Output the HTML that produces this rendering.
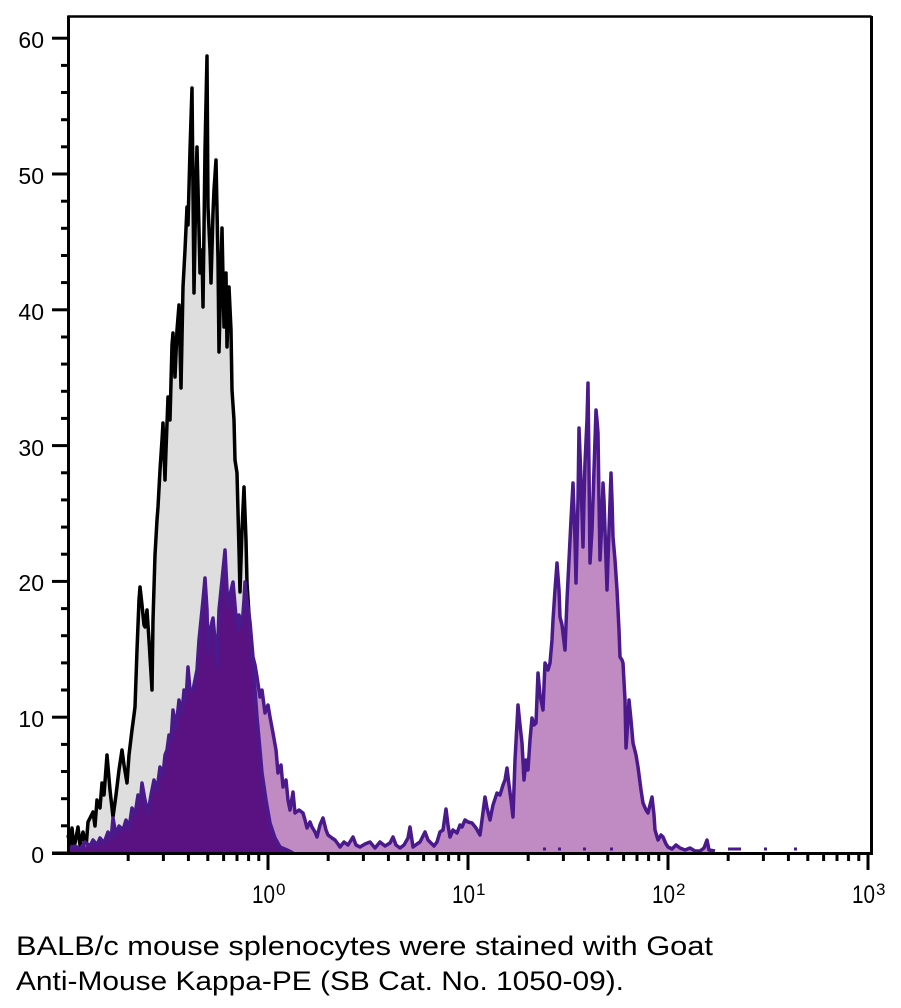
<!DOCTYPE html>
<html>
<head>
<meta charset="utf-8">
<style>
html,body{margin:0;padding:0;background:#fff;}
svg{display:block;}
text{font-family:"Liberation Sans",sans-serif;fill:#000;}
</style>
</head>
<body>
<svg width="901" height="1008" viewBox="0 0 901 1008" xmlns="http://www.w3.org/2000/svg">
<defs>
<clipPath id="clipG">
<polygon points="68,853 68,835 70,845 72,828 74,848 76,838 78,827 80,845 83,832 86,848 88,822 90,818 93,812 95,826 97,800 100,808 102,783 104,795 107,755 110,790 113,817 116,795 119,770 122,750 124,765 127,783 129,755 132,730 134,715 135,707 137,650 139,600 140,587 142,605 144,625 145,627 147,610 149,640 152,690 153,620 155,555 157,520 158,507 160,470 162,440 163,423 165,480 166,450 168,397 170,420 172,345 173,333 175,377 177,330 179,305 181,388 183,287 185,250 187,207 188,225 190,150 192,88 194,293 196,180 197,147 199,230 200,273 202,250 203,307 205,150 207,56 208,207 210,250 211,283 213,213 214,190 216,160 218,260 219,352 221,270 222,228 224,327 226,273 227,347 229,287 231,330 232,390 234,420 235,460 237,473 239,550 240,592 242,530 244,487 246,540 247,583 250,630 252,657 255,690 257,717 260,750 262,773 266,800 270,823 275,838 280,847 287,850 293,853"/>
</clipPath>
<clipPath id="clipP">
<polygon points="68,853 68,848 75,846 80,849 85,842 90,846 93,840 97,845 100,838 104,843 108,832 111,840 113,818 116,835 119,826 123,830 126,820 129,828 132,808 135,815 138,795 140,805 142,783 145,800 148,813 151,795 154,780 157,790 160,767 163,775 165,755 167,750 169,735 171,740 173,710 176,728 179,700 182,713 184,690 186,700 188,667 190,690 193,690 195,680 197,670 199,640 201,620 203,600 205,578 207,610 208,653 210,630 213,618 215,640 217,667 219,610 221,590 222,580 224,560 225,550 227,590 228,607 230,595 233,582 235,605 237,630 239,615 242,627 244,600 245,582 247,600 250,622 253,657 255,665 257,677 260,697 262,690 265,713 268,705 270,717 273,733 276,750 278,773 281,765 283,787 286,780 288,800 290,810 293,792 295,813 299,810 303,813 305,820 307,828 310,822 312,827 315,832 317,837 320,825 323,818 326,830 328,835 332,838 335,840 338,844 340,847 340,853"/>
</clipPath>
</defs>

<!-- gray control histogram -->
<polygon points="68,853 68,835 70,845 72,828 74,848 76,838 78,827 80,845 83,832 86,848 88,822 90,818 93,812 95,826 97,800 100,808 102,783 104,795 107,755 110,790 113,817 116,795 119,770 122,750 124,765 127,783 129,755 132,730 134,715 135,707 137,650 139,600 140,587 142,605 144,625 145,627 147,610 149,640 152,690 153,620 155,555 157,520 158,507 160,470 162,440 163,423 165,480 166,450 168,397 170,420 172,345 173,333 175,377 177,330 179,305 181,388 183,287 185,250 187,207 188,225 190,150 192,88 194,293 196,180 197,147 199,230 200,273 202,250 203,307 205,150 207,56 208,207 210,250 211,283 213,213 214,190 216,160 218,260 219,352 221,270 222,228 224,327 226,273 227,347 229,287 231,330 232,390 234,420 235,460 237,473 239,550 240,592 242,530 244,487 246,540 247,583 250,630 252,657 255,690 257,717 260,750 262,773 266,800 270,823 275,838 280,847 287,850 293,853" fill="#dedede" stroke="none"/>
<polyline points="68,835 70,845 72,828 74,848 76,838 78,827 80,845 83,832 86,848 88,822 90,818 93,812 95,826 97,800 100,808 102,783 104,795 107,755 110,790 113,817 116,795 119,770 122,750 124,765 127,783 129,755 132,730 134,715 135,707 137,650 139,600 140,587 142,605 144,625 145,627 147,610 149,640 152,690 153,620 155,555 157,520 158,507 160,470 162,440 163,423 165,480 166,450 168,397 170,420 172,345 173,333 175,377 177,330 179,305 181,388 183,287 185,250 187,207 188,225 190,150 192,88 194,293 196,180 197,147 199,230 200,273 202,250 203,307 205,150 207,56 208,207 210,250 211,283 213,213 214,190 216,160 218,260 219,352 221,270 222,228 224,327 226,273 227,347 229,287 231,330 232,390 234,420 235,460 237,473 239,550 240,592 242,530 244,487 246,540 247,583 250,630 252,657 255,690 257,717 260,750 262,773 266,800 270,823 275,838 280,847 287,850 293,853" fill="none" stroke="#000" stroke-width="3.5" stroke-linejoin="round"/>

<!-- stained histogram (light fill) -->
<polygon points="68,853 68,848 75,846 80,849 85,842 90,846 93,840 97,845 100,838 104,843 108,832 111,840 113,818 116,835 119,826 123,830 126,820 129,828 132,808 135,815 138,795 140,805 142,783 145,800 148,813 151,795 154,780 157,790 160,767 163,775 165,755 167,750 169,735 171,740 173,710 176,728 179,700 182,713 184,690 186,700 188,667 190,690 193,690 195,680 197,670 199,640 201,620 203,600 205,578 207,610 208,653 210,630 213,618 215,640 217,667 219,610 221,590 222,580 224,560 225,550 227,590 228,607 230,595 233,582 235,605 237,630 239,615 242,627 244,600 245,582 247,600 250,622 253,657 255,665 257,677 260,697 262,690 265,713 268,705 270,717 273,733 276,750 278,773 281,765 283,787 286,780 288,800 290,810 293,792 295,813 299,810 303,813 305,820 307,828 310,822 312,827 315,832 317,837 320,825 323,818 326,830 328,835 332,838 335,840 338,844 340,847 344,842 348,845 353,837 356,845 360,847 365,844 370,842 375,848 380,842 385,846 390,843 393,837 396,845 400,848 404,845 408,838 410,827 413,847 417,844 420,842 423,836 425,832 428,840 430,842 434,846 437,842 440,832 443,830 446,809 448,825 450,837 453,830 457,833 460,825 462,827 465,820 468,822 472,823 476,828 480,835 482,820 485,797 487,808 490,820 493,805 497,793 500,795 503,785 505,780 507,768 509,785 511,800 513,817 515,760 518,705 520,725 522,743 524,780 526,760 528,770 530,740 532,718 534,725 536,723 538,673 540,695 543,710 545,663 548,670 550,663 552,640 553,620 555,590 557,563 559,590 560,617 562,625 565,650 567,600 568,580 570,540 571,520 573,483 575,540 576,583 578,500 579,428 581,480 583,547 584,500 585,463 587,420 588,383 589,470 590,563 592,530 593,500 595,440 596,410 597,420 598,433 599,500 600,560 602,520 603,483 604,500 605,530 607,590 609,530 611,473 612,500 613,537 615,560 617,590 619,630 620,657 622,660 623,663 625,700 626,748 628,720 629,700 631,720 633,743 636,755 638,767 641,790 643,803 646,810 648,813 650,805 652,797 654,815 655,830 658,840 661,835 663,837 666,844 668,847 672,849 676,845 680,848 685,850 690,848 695,851 700,851 704,848 707,840 709,850 715,853" fill="#c08ac2" stroke="none"/>
<!-- overlap region (dark) -->
<g clip-path="url(#clipG)">
<polygon points="68,853 68,848 75,846 80,849 85,842 90,846 93,840 97,845 100,838 104,843 108,832 111,840 113,818 116,835 119,826 123,830 126,820 129,828 132,808 135,815 138,795 140,805 142,783 145,800 148,813 151,795 154,780 157,790 160,767 163,775 165,755 167,750 169,735 171,740 173,710 176,728 179,700 182,713 184,690 186,700 188,667 190,690 193,690 195,680 197,670 199,640 201,620 203,600 205,578 207,610 208,653 210,630 213,618 215,640 217,667 219,610 221,590 222,580 224,560 225,550 227,590 228,607 230,595 233,582 235,605 237,630 239,615 242,627 244,600 245,582 247,600 250,622 253,657 255,665 257,677 260,697 262,690 265,713 268,705 270,717 273,733 276,750 278,773 281,765 283,787 286,780 288,800 290,810 293,792 295,813 299,810 303,813 303,853" fill="#5a1282" stroke="none"/>
</g>
<!-- gray outline inside purple area, recolored -->
<g clip-path="url(#clipP)">
<polyline points="240,592 242,530 244,487 246,540 247,583 250,630 252,657 255,690 257,717 260,750 262,773 266,800 270,823 275,838 280,847 287,850 293,853" fill="none" stroke="#4a1a8c" stroke-width="3.5" stroke-linejoin="round"/>
</g>
<polyline points="68,848 75,846 80,849 85,842 90,846 93,840 97,845 100,838 104,843 108,832 111,840 113,818 116,835 119,826 123,830 126,820 129,828 132,808 135,815 138,795 140,805 142,783 145,800 148,813 151,795 154,780 157,790 160,767 163,775 165,755 167,750 169,735 171,740 173,710 176,728 179,700 182,713 184,690 186,700 188,667 190,690 193,690 195,680 197,670 199,640 201,620 203,600 205,578 207,610 208,653 210,630 213,618 215,640 217,667 219,610 221,590 222,580 224,560 225,550 227,590 228,607 230,595 233,582 235,605 237,630 239,615 242,627 244,600 245,582 247,600 250,622 253,657 255,665 257,677 260,697 262,690 265,713 268,705 270,717 273,733 276,750 278,773 281,765 283,787 286,780 288,800 290,810 293,792 295,813 299,810 303,813 305,820 307,828 310,822 312,827 315,832 317,837 320,825 323,818 326,830 328,835 332,838 335,840 338,844 340,847 344,842 348,845 353,837 356,845 360,847 365,844 370,842 375,848 380,842 385,846 390,843 393,837 396,845 400,848 404,845 408,838 410,827 413,847 417,844 420,842 423,836 425,832 428,840 430,842 434,846 437,842 440,832 443,830 446,809 448,825 450,837 453,830 457,833 460,825 462,827 465,820 468,822 472,823 476,828 480,835 482,820 485,797 487,808 490,820 493,805 497,793 500,795 503,785 505,780 507,768 509,785 511,800 513,817 515,760 518,705 520,725 522,743 524,780 526,760 528,770 530,740 532,718 534,725 536,723 538,673 540,695 543,710 545,663 548,670 550,663 552,640 553,620 555,590 557,563 559,590 560,617 562,625 565,650 567,600 568,580 570,540 571,520 573,483 575,540 576,583 578,500 579,428 581,480 583,547 584,500 585,463 587,420 588,383 589,470 590,563 592,530 593,500 595,440 596,410 597,420 598,433 599,500 600,560 602,520 603,483 604,500 605,530 607,590 609,530 611,473 612,500 613,537 615,560 617,590 619,630 620,657 622,660 623,663 625,700 626,748 628,720 629,700 631,720 633,743 636,755 638,767 641,790 643,803 646,810 648,813 650,805 652,797 654,815 655,830 658,840 661,835 663,837 666,844 668,847 672,849 676,845 680,848 685,850 690,848 695,851 700,851 704,848 707,840 709,850 715,851" fill="none" stroke="#4a1a8c" stroke-width="3.5" stroke-linejoin="round"/>
<!-- baseline dots -->
<g stroke="#4a1a8c" stroke-width="3">
<line x1="543" y1="849" x2="546" y2="849"/>
<line x1="558" y1="849" x2="561" y2="849"/>
<line x1="583" y1="849" x2="586" y2="849"/>
<line x1="610" y1="849" x2="613" y2="849"/>
<line x1="728" y1="849" x2="741" y2="849"/>
<line x1="764" y1="849" x2="767" y2="849"/>
<line x1="794" y1="849" x2="797" y2="849"/>
</g>

<!-- frame -->
<line x1="68" y1="16.5" x2="871.5" y2="16.5" stroke="#000" stroke-width="2.5"/>
<line x1="871.5" y1="16" x2="871.5" y2="854" stroke="#000" stroke-width="3"/>
<line x1="68.5" y1="15.5" x2="68.5" y2="855" stroke="#000" stroke-width="3"/>
<line x1="52" y1="853.5" x2="873" y2="853.5" stroke="#000" stroke-width="3"/>

<!-- y ticks -->
<g stroke="#000" stroke-width="3">
<line x1="52" y1="853" x2="68" y2="853"/>
<line x1="52" y1="717.2" x2="68" y2="717.2"/>
<line x1="52" y1="581.4" x2="68" y2="581.4"/>
<line x1="52" y1="445.6" x2="68" y2="445.6"/>
<line x1="52" y1="309.8" x2="68" y2="309.8"/>
<line x1="52" y1="174" x2="68" y2="174"/>
<line x1="52" y1="38.2" x2="68" y2="38.2"/>
<line x1="61" y1="825.8" x2="68" y2="825.8"/>
<line x1="61" y1="798.7" x2="68" y2="798.7"/>
<line x1="61" y1="771.5" x2="68" y2="771.5"/>
<line x1="61" y1="744.4" x2="68" y2="744.4"/>
<line x1="61" y1="690.0" x2="68" y2="690.0"/>
<line x1="61" y1="662.9" x2="68" y2="662.9"/>
<line x1="61" y1="635.7" x2="68" y2="635.7"/>
<line x1="61" y1="608.6" x2="68" y2="608.6"/>
<line x1="61" y1="554.2" x2="68" y2="554.2"/>
<line x1="61" y1="527.1" x2="68" y2="527.1"/>
<line x1="61" y1="499.9" x2="68" y2="499.9"/>
<line x1="61" y1="472.8" x2="68" y2="472.8"/>
<line x1="61" y1="418.4" x2="68" y2="418.4"/>
<line x1="61" y1="391.3" x2="68" y2="391.3"/>
<line x1="61" y1="364.1" x2="68" y2="364.1"/>
<line x1="61" y1="337.0" x2="68" y2="337.0"/>
<line x1="61" y1="282.6" x2="68" y2="282.6"/>
<line x1="61" y1="255.5" x2="68" y2="255.5"/>
<line x1="61" y1="228.3" x2="68" y2="228.3"/>
<line x1="61" y1="201.2" x2="68" y2="201.2"/>
<line x1="61" y1="146.8" x2="68" y2="146.8"/>
<line x1="61" y1="119.7" x2="68" y2="119.7"/>
<line x1="61" y1="92.5" x2="68" y2="92.5"/>
<line x1="61" y1="65.4" x2="68" y2="65.4"/>
</g>

<!-- x ticks -->
<g stroke="#000" stroke-width="3">
<line x1="268" y1="853" x2="268" y2="870"/>
<line x1="468" y1="853" x2="468" y2="870"/>
<line x1="668" y1="853" x2="668" y2="870"/>
<line x1="868" y1="853" x2="868" y2="870"/>
<line x1="128.2" y1="853" x2="128.2" y2="861"/>
<line x1="163.4" y1="853" x2="163.4" y2="861"/>
<line x1="188.4" y1="853" x2="188.4" y2="861"/>
<line x1="207.8" y1="853" x2="207.8" y2="861"/>
<line x1="223.6" y1="853" x2="223.6" y2="861"/>
<line x1="237.0" y1="853" x2="237.0" y2="861"/>
<line x1="248.6" y1="853" x2="248.6" y2="861"/>
<line x1="258.8" y1="853" x2="258.8" y2="861"/>
<line x1="328.2" y1="853" x2="328.2" y2="861"/>
<line x1="363.4" y1="853" x2="363.4" y2="861"/>
<line x1="388.4" y1="853" x2="388.4" y2="861"/>
<line x1="407.8" y1="853" x2="407.8" y2="861"/>
<line x1="423.6" y1="853" x2="423.6" y2="861"/>
<line x1="437.0" y1="853" x2="437.0" y2="861"/>
<line x1="448.6" y1="853" x2="448.6" y2="861"/>
<line x1="458.8" y1="853" x2="458.8" y2="861"/>
<line x1="528.2" y1="853" x2="528.2" y2="861"/>
<line x1="563.4" y1="853" x2="563.4" y2="861"/>
<line x1="588.4" y1="853" x2="588.4" y2="861"/>
<line x1="607.8" y1="853" x2="607.8" y2="861"/>
<line x1="623.6" y1="853" x2="623.6" y2="861"/>
<line x1="637.0" y1="853" x2="637.0" y2="861"/>
<line x1="648.6" y1="853" x2="648.6" y2="861"/>
<line x1="658.8" y1="853" x2="658.8" y2="861"/>
<line x1="728.2" y1="853" x2="728.2" y2="861"/>
<line x1="763.4" y1="853" x2="763.4" y2="861"/>
<line x1="788.4" y1="853" x2="788.4" y2="861"/>
<line x1="807.8" y1="853" x2="807.8" y2="861"/>
<line x1="823.6" y1="853" x2="823.6" y2="861"/>
<line x1="837.0" y1="853" x2="837.0" y2="861"/>
<line x1="848.6" y1="853" x2="848.6" y2="861"/>
<line x1="858.8" y1="853" x2="858.8" y2="861"/>
</g>

<!-- y labels -->
<g font-size="23" text-anchor="end">
<text x="44" y="863">0</text>
<text x="44" y="727">10</text>
<text x="44" y="591">20</text>
<text x="44" y="456">30</text>
<text x="44" y="320">40</text>
<text x="44" y="184">50</text>
<text x="44" y="48">60</text>
</g>

<!-- x labels -->
<g font-size="25">
<text x="252" y="903" textLength="23" lengthAdjust="spacingAndGlyphs">10</text>
<text x="452" y="903" textLength="23" lengthAdjust="spacingAndGlyphs">10</text>
<text x="652" y="903" textLength="23" lengthAdjust="spacingAndGlyphs">10</text>
<text x="852" y="903" textLength="23" lengthAdjust="spacingAndGlyphs">10</text>
</g>
<g font-size="17">
<text x="276" y="895">0</text>
<text x="476" y="895">1</text>
<text x="676" y="895">2</text>
<text x="876" y="895">3</text>
</g>

<!-- caption -->
<text x="16" y="955" font-size="27" textLength="697" lengthAdjust="spacingAndGlyphs">BALB/c mouse splenocytes were stained with Goat</text>
<text x="16" y="990" font-size="27" textLength="608" lengthAdjust="spacingAndGlyphs">Anti-Mouse Kappa-PE (SB Cat. No. 1050-09).</text>
</svg>
</body>
</html>
